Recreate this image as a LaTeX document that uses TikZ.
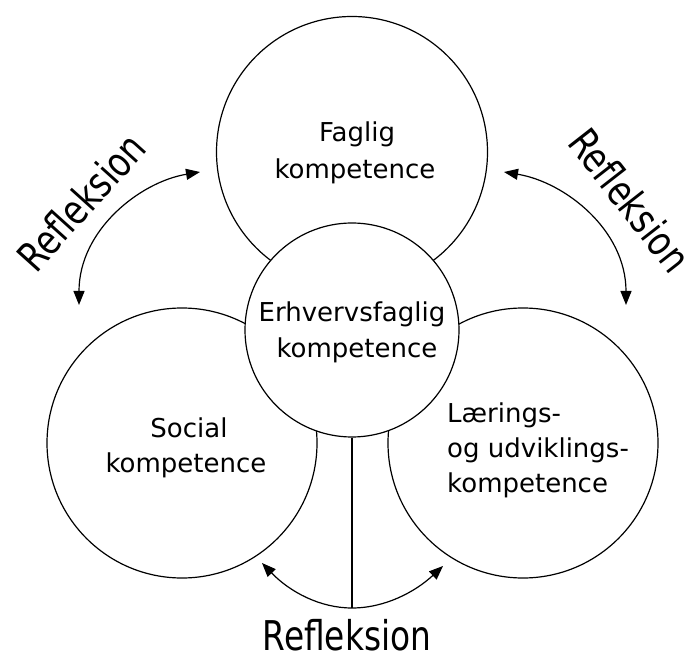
\documentclass[tikz,border=0pt]{standalone}
\usepackage{fontspec}
\usepackage{graphicx}
\setmainfont{DejaVu Sans}
\usetikzlibrary{arrows.meta}
\begin{document}
\begin{tikzpicture}[x=1pt,y=-1pt,
  circ/.style={circle,draw,line width=1.2pt,inner sep=0pt,fill=white},
  lbl/.style={font=\fontsize{26}{36.5}\selectfont,inner sep=0pt},
  refl/.style={font=\fontsize{41}{41}\selectfont,inner sep=0pt},
  conn/.style={line width=1.2pt},
  arr/.style={conn,{Triangle[length=14pt,width=11pt]}-{Triangle[length=14pt,width=11pt]}}
]
\useasboundingbox (0,0) rectangle (686,655);
\node[circ,minimum size=271pt] (F) at (352,152) {};
\node[circ,minimum size=270pt] (S) at (182,443) {};
\node[circ,minimum size=270pt] (L) at (523,443) {};
\node[circ,minimum size=214pt] (E) at (352,330) {};

\node[lbl,anchor=base] (tF1) at (357,142) {Faglig};
\node[lbl,anchor=base] (tF2) at (355,179) {kompetence};
\node[lbl,anchor=base] (tE1) at (352,322) {Erhvervsfaglig};
\node[lbl,anchor=base] (tE2) at (357,358) {kompetence};
\node[lbl,anchor=base] (tS1) at (189,437) {Social};
\node[lbl,anchor=base] (tS2) at (186,472) {kompetence};
\node[lbl,anchor=base west] (tL1) at (447,422) {Lærings-};
\node[lbl,anchor=base west] (tL2) at (447,457) {og udviklings-};
\node[lbl,anchor=base west] (tL3) at (447,492) {kompetence};

\coordinate (a1) at (79,305);
\coordinate (a2) at (200,172);
\coordinate (b1) at (626,305);
\coordinate (b2) at (504,172);
\coordinate (c1) at (262,563);
\coordinate (c2) at (443,566);
\coordinate (B) at (352,608);
\draw[arr] (a1) .. controls (79,230) and (140,182) .. (a2);
\draw[arr] (b1) .. controls (626,230) and (565,182) .. (b2);
\draw[arr] (c1) .. controls (290,592) and (320,608) .. (B) .. controls (385,608) and (415,592) .. (c2);
\draw[conn] (E.south) -- (B);

\node[refl,anchor=base] (R3) at (347,650) {\scalebox{0.8}[1]{Refleksion}};
\node[refl,rotate=48] (R1) at (81,202) {\scalebox{0.8}[1]{Refleksion}};
\node[refl,rotate=-52] (R2) at (630,200) {\scalebox{0.8}[1]{Refleksion}};
\end{tikzpicture}
\end{document}
